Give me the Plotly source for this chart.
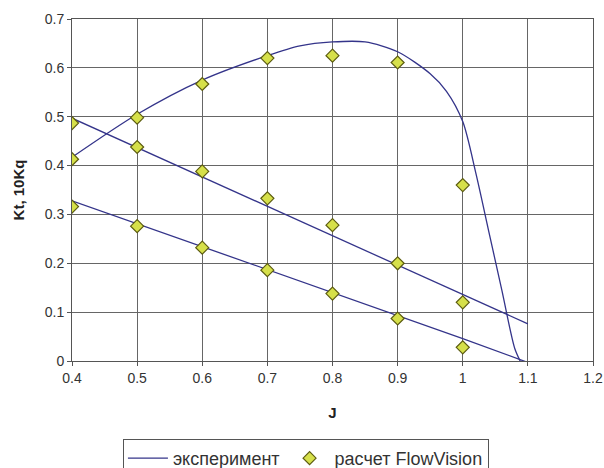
import plotly.graph_objects as go

# experiment curves
J_kt_exp = [0.4, 0.5, 0.6, 0.7, 0.8, 0.9, 1.0, 1.1]
Kt_exp = [0.328, 0.281, 0.234, 0.187, 0.140, 0.093, 0.046, -0.003]
J_kq_exp = [0.4, 0.5, 0.6, 0.7, 0.8, 0.9, 1.0, 1.1]
Kq10_exp = [0.497, 0.437, 0.377, 0.317, 0.257, 0.196, 0.136, 0.076]
J_eta_exp = [0.4, 0.5, 0.6, 0.7, 0.75, 0.8, 0.85, 0.9, 0.95, 0.975, 1.0, 1.02, 1.04, 1.06, 1.08, 1.09]
eta_exp = [0.417, 0.505, 0.575, 0.625, 0.645, 0.653, 0.653, 0.633, 0.588, 0.552, 0.49, 0.385, 0.265, 0.145, 0.025, -0.005]

# FlowVision calculation
J_calc = [0.4, 0.5, 0.6, 0.7, 0.8, 0.9, 1.0]
Kt_calc = [0.316, 0.276, 0.232, 0.186, 0.138, 0.087, 0.028]
Kq10_calc = [0.487, 0.438, 0.388, 0.333, 0.278, 0.200, 0.120]
eta_calc = [0.413, 0.498, 0.567, 0.620, 0.625, 0.611, 0.360]

x_ticks = [0.4, 0.5, 0.6, 0.7, 0.8, 0.9, 1.0, 1.1, 1.2]
x_tick_labels = ["0.4", "0.5", "0.6", "0.7", "0.8", "0.9", "1", "1.1", "1.2"]
y_ticks = [0, 0.1, 0.2, 0.3, 0.4, 0.5, 0.6, 0.7]
y_tick_labels = ["0", "0.1", "0.2", "0.3", "0.4", "0.5", "0.6", "0.7"]

line_color = "#34348a"
marker_fill = "#d6e04a"
marker_edge = "#5c5c10"

fig = go.Figure()
fig.add_trace(go.Scatter(x=J_kt_exp, y=Kt_exp, mode="lines", name="эксперимент",
                         line=dict(color=line_color, width=1.3), legendgroup="exp"))
fig.add_trace(go.Scatter(x=J_kq_exp, y=Kq10_exp, mode="lines", name="эксперимент",
                         line=dict(color=line_color, width=1.3), legendgroup="exp", showlegend=False))
fig.add_trace(go.Scatter(x=J_eta_exp, y=eta_exp, mode="lines", name="эксперимент",
                         line=dict(color=line_color, width=1.3, shape="spline", smoothing=0.8),
                         legendgroup="exp", showlegend=False))
for i, ys in enumerate([Kt_calc, Kq10_calc, eta_calc]):
    fig.add_trace(go.Scatter(x=J_calc, y=ys, mode="markers", name="расчет FlowVision",
                             marker=dict(symbol="diamond", size=10, color=marker_fill,
                                         line=dict(color=marker_edge, width=1.2)),
                             legendgroup="calc", showlegend=(i == 0)))

fig.update_layout(
    width=604, height=468,
    margin=dict(l=72, r=11, t=19, b=107, autoexpand=False),
    paper_bgcolor="white", plot_bgcolor="white",
    font=dict(family="Liberation Sans, Arial, sans-serif", size=14, color="#333333"),
    showlegend=True,
    legend=dict(orientation="h", x=0.449, xanchor="center", y=-0.228, yanchor="top",
                bordercolor="#555555", borderwidth=1, font=dict(size=18, color="#333333"),
                itemwidth=40, tracegroupgap=0),
)
fig.update_xaxes(range=[0.4, 1.2], tickvals=x_ticks, ticktext=x_tick_labels,
                 showgrid=True, gridcolor="#666666", gridwidth=1,
                 showline=True, linecolor="#555555", mirror=True,
                 ticks="outside", ticklen=4, tickcolor="#555555",
                 zeroline=False, automargin=False,
                 title=dict(text="<b>J</b>", font=dict(size=15, color="#222222"), standoff=22))
fig.update_yaxes(range=[0, 0.7], tickvals=y_ticks, ticktext=y_tick_labels,
                 showgrid=True, gridcolor="#666666", gridwidth=1,
                 showline=True, linecolor="#555555", mirror=True,
                 ticks="outside", ticklen=4, tickcolor="#555555",
                 zeroline=False, automargin=False,
                 title=dict(text="<b>Kt, 10Kq</b>", font=dict(size=15, color="#222222"), standoff=16))

fig.write_html("out.html", config={"displayModeBar": False},
               post_script="document.body.style.margin='0px';document.body.style.overflow='hidden';")
